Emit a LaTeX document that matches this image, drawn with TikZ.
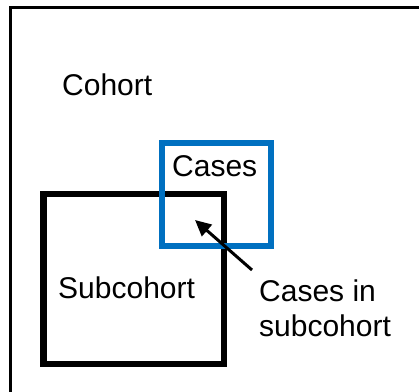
\documentclass[tikz,border=0pt]{standalone}
\usepackage{fontspec}
\setmainfont{Liberation Sans}
\usetikzlibrary{arrows.meta}
\definecolor{caseblue}{HTML}{0070C0}
\begin{document}
\begin{tikzpicture}[x=1pt,y=-1pt,
  lbl/.style={font=\fontsize{30}{35}\selectfont, inner sep=0pt, text=black},
  boxstyle/.style={draw, inner sep=0pt, fill=none}]
\useasboundingbox (0,0) rectangle (419,391);
\clip (0,0) rectangle (419,391);
% cohort frame (right and bottom edges lie outside the picture)
\draw[line width=3pt] (10,7.5) rectangle (440,420);
% subcohort and cases boxes
\node[boxstyle, line width=6.5pt, minimum width=180.5pt, minimum height=170pt] (sub) at (133.75,279) {};
\node[boxstyle, draw=caseblue, line width=6pt, minimum width=109pt, minimum height=103pt] (cases) at (216.5,194.5) {};
% labels
\node[lbl, anchor=base west] (cohortlbl) at (62,95) {Cohort};
\node[lbl, anchor=base west] (caseslbl) at (172,176) {Cases};
\node[lbl, anchor=base west] (sublbl) at (58,298) {Subcohort};
\node[lbl, anchor=base west, align=left] (cislbl) at (259,336) {Cases in\\subcohort};
% arrow
\coordinate (tail) at (252,270);
\coordinate (tip) at (195,220);
\draw[line width=3pt, -{Triangle[length=16pt,width=15pt]}] (tail) -- (tip);
\end{tikzpicture}
\end{document}
